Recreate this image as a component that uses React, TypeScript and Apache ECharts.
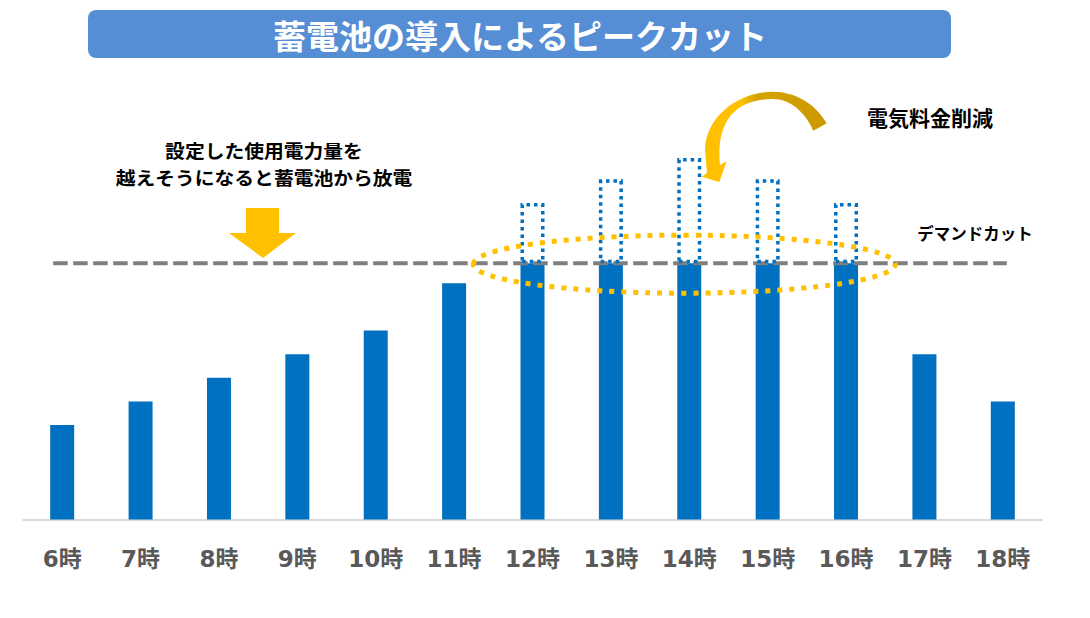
import React, { useEffect, useRef } from "react";
import * as echarts from "echarts";

// ---- data ----
const categories = ["6時", "7時", "8時", "9時", "10時", "11時", "12時", "13時", "14時", "15時", "16時", "17時", "18時"];
const usage = [40, 50, 60, 70, 80, 100, 134, 144, 153, 144, 134, 70, 50];
const demandCut = 108.5;
const yMax = 160;

const titleText = "蓄電池の導入によるピークカット";
const noteLines = ["設定した使用電力量を", "越えそうになると蓄電池から放電"];
const savingLabel = "電気料金削減";
const cutLabel = "デマンドカット";

const belowCut = usage.map((v) => Math.min(v, demandCut));
const aboveCut = usage.map((v) => (v > demandCut ? +(v - demandCut).toFixed(2) : null));

const FONT = '"Noto Sans CJK JP", "Noto Sans", sans-serif';
const AXIS_FONT = '"DejaVu Sans", "Noto Sans CJK JP", sans-serif';

const CURVE_D =
  "M826.7 123.3 C815 103 795 92 773 91.7 C740 92 706 115 705 150 L707 173 L701.7 176.7 L719.3 182 L726.7 161 L720 165 C716 125 732 99 773 99 C790 99 805 112 813.3 130.7 Z";

let registered = false;
function ensureShapes() {
  if (registered) return;
  echarts.graphic.registerShape("curveArrow", echarts.graphic.extendPath(CURVE_D, {}) as any);
  registered = true;
}

export default function App() {
  const ref = useRef<HTMLDivElement>(null);

  useEffect(() => {
    if (!ref.current) return;
    ensureShapes();
    const chart = echarts.init(ref.current, undefined, { renderer: "svg" });
    const option: any = {
      animation: false,
      grid: { left: 23, right: 48, top: 141.5, bottom: 98.5 },
      xAxis: {
        type: "category",
        data: categories,
        boundaryGap: true,
        axisLine: { show: true, lineStyle: { color: "#D9D9D9", width: 2 } },
        axisTick: { show: false },
        axisLabel: {
          color: "#595959",
          fontSize: 23,
          fontWeight: "bold",
          fontFamily: AXIS_FONT,
          margin: 28,
        },
        splitLine: { show: false },
      },
      yAxis: {
        type: "value",
        min: 0,
        max: yMax,
        show: false,
        splitLine: { show: false },
      },
      series: [
        {
          type: "bar",
          name: "使用電力",
          stack: "u",
          data: belowCut,
          barWidth: 24,
          z: 2,
          itemStyle: { color: "#0070C0" },
        },
        {
          type: "bar",
          name: "ピークカット",
          stack: "u",
          data: aboveCut,
          barWidth: 24,
          z: 4,
          itemStyle: {
            color: "rgba(0,0,0,0)",
            borderColor: "#0070C0",
            borderWidth: 3.5,
            borderType: [3.5, 4],
          },
        },
      ],
    };
    chart.setOption(option);

    const yCut = chart.convertToPixel({ yAxisIndex: 0 }, demandCut) as number;
    const xFirst = chart.convertToPixel({ xAxisIndex: 0 }, categories[0]) as number;
    const xLast = chart.convertToPixel({ xAxisIndex: 0 }, categories[categories.length - 1]) as number;
    const xPeakL = chart.convertToPixel({ xAxisIndex: 0 }, categories[6]) as number;
    const xPeakR = chart.convertToPixel({ xAxisIndex: 0 }, categories[10]) as number;

    const noteText = (text: string, y: number) => ({
      type: "text",
      x: 264,
      y,
      scaleX: 1.07,
      z: 11,
      style: {
        text,
        fill: "#000000",
        font: `bold 18.5px ${FONT}`,
        textAlign: "center",
        textVerticalAlign: "middle",
      },
    });

    chart.setOption({
      graphic: [
        {
          type: "rect",
          shape: { x: 88, y: 10, width: 863, height: 48, r: 8 },
          style: { fill: "#558ED5" },
          z: 10,
        },
        {
          type: "text",
          x: 520,
          y: 35,
          z: 11,
          style: {
            text: titleText,
            fill: "#FFFFFF",
            font: `bold 33px ${FONT}`,
            textAlign: "center",
            textVerticalAlign: "middle",
          },
        },
        noteText(noteLines[0], 150),
        noteText(noteLines[1], 177.5),
        {
          type: "text",
          x: 930,
          y: 117,
          z: 11,
          style: {
            text: savingLabel,
            fill: "#000000",
            font: `bold 21px ${FONT}`,
            textAlign: "center",
            textVerticalAlign: "middle",
          },
        },
        {
          type: "text",
          x: 975,
          y: 233,
          z: 11,
          style: {
            text: cutLabel,
            fill: "#000000",
            font: `bold 16.5px ${FONT}`,
            textAlign: "center",
            textVerticalAlign: "middle",
          },
        },
        {
          type: "polygon",
          z: 11,
          shape: {
            points: [
              [246, 208],
              [279, 208],
              [279, 233],
              [296, 233],
              [263, 258],
              [229, 233],
              [246, 233],
            ],
          },
          style: { fill: "#FFC000" },
        },
        {
          type: "curveArrow",
          x: 0,
          y: 0,
          z: 11,
          style: {
            fill: {
              type: "linear",
              x: 0,
              y: 0,
              x2: 1,
              y2: 0,
              colorStops: [
                { offset: 0, color: "#FFC000" },
                { offset: 0.32, color: "#FFC000" },
                { offset: 0.44, color: "#D4A200" },
                { offset: 1, color: "#CC9A00" },
              ],
            },
          },
        },
        {
          type: "line",
          z: 3,
          shape: { x1: xFirst - 9, y1: yCut, x2: xLast + 4, y2: yCut },
          style: { stroke: "#7F7F7F", lineWidth: 4, lineDash: [14.5, 5.5] },
        },
        {
          type: "ellipse",
          z: 12,
          shape: { cx: (xPeakL + xPeakR) / 2 - 5, cy: yCut + 1, rx: 211, ry: 29 },
          style: { fill: "none", stroke: "#FFC000", lineWidth: 5, lineDash: [5, 7] },
        },
      ],
    });

    return () => chart.dispose();
  }, []);

  return (
    <div
      ref={ref}
      style={{ position: "absolute", left: 0, top: 0, width: 1090, height: 618, background: "#FFFFFF" }}
    />
  );
}
